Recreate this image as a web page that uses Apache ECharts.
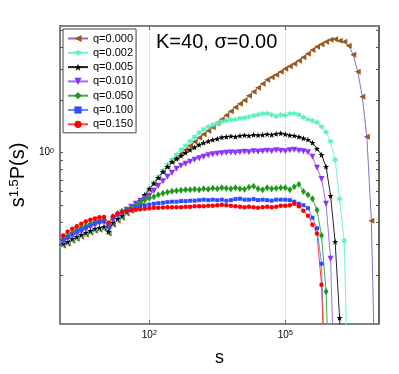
<!DOCTYPE html>
<html>
<head>
<meta charset="utf-8">
<script src="https://cdn.jsdelivr.net/npm/echarts@6/dist/echarts.min.js"></script>
<style>
html, body { margin: 0; padding: 0; background: #fff; }
#chart { width: 399px; height: 374px; }
</style>
</head>
<body>
<div id="chart"></div>
<script>
// cluster size s (log-binned)
const sValues = [
  1, 1.26, 1.58, 2.0, 2.51, 3.16, 3.98, 5.01, 6.31, 7.94,
  10, 12.6, 15.8, 20, 25.1, 31.6, 39.8, 50.1, 63.1, 79.4,
  100, 126, 158, 200, 251, 316, 398, 501, 631, 794,
  1000, 1260, 1580, 2000, 2510, 3160, 3980, 5010, 6310, 7940,
  1e4, 1.26e4, 1.58e4, 2e4, 2.51e4, 3.16e4, 3.98e4, 5.01e4, 6.31e4, 7.94e4,
  1e5, 1.26e5, 1.58e5, 2e5, 2.51e5, 3.16e5, 3.98e5, 5.01e5, 6.31e5, 7.94e5,
  1e6, 1.26e6, 1.58e6, 2e6, 2.51e6, 3.16e6, 3.98e6, 5.01e6, 6.31e6, 7.94e6,
  1e7
]

const qLabels = ['q=0.000', 'q=0.002', 'q=0.005', 'q=0.010', 'q=0.050', 'q=0.100', 'q=0.150']

// s^1.5 P(s)
const p000 = [
  0.286, 0.294, 0.302, 0.314, 0.322, 0.331, 0.340, 0.349, 0.358, 0.363,
  0.368, 0.345, 0.388, 0.409, 0.425, 0.449, 0.466, 0.485, 0.518, 0.561,
  0.615, 0.665, 0.72, 0.779, 0.832, 0.888, 0.936, 0.987, 1.04, 1.096,
  1.155, 1.218, 1.275, 1.335, 1.399, 1.474, 1.553, 1.637, 1.727, 1.82,
  1.906, 1.995, 2.12, 2.23, 2.35, 2.48, 2.61, 2.70, 2.79, 2.90,
  3.02, 3.12, 3.23, 3.36, 3.51, 3.68, 3.86, 4.03, 4.17, 4.31,
  4.42, 4.45, 4.36, 4.31, 4.09, 3.63, 2.90, 2.09, 1.234, 0.409,
  0.03
]
const p002 = [
  0.290, 0.298, 0.306, 0.318, 0.326, 0.335, 0.344, 0.354, 0.363, 0.368,
  0.373, 0.349, 0.393, 0.414, 0.431, 0.455, 0.472, 0.491, 0.525, 0.568,
  0.623, 0.674, 0.729, 0.789, 0.854, 0.912, 0.974, 1.040, 1.096, 1.163,
  1.234, 1.301, 1.362, 1.408, 1.445, 1.474, 1.503, 1.523, 1.544, 1.553,
  1.574, 1.584, 1.605, 1.627, 1.648, 1.67, 1.68, 1.648, 1.616, 1.648,
  1.637, 1.67, 1.68, 1.648, 1.595, 1.553, 1.523, 1.493, 1.408, 1.31,
  1.16, 0.912, 0.545, 0.314, 0.03
]
const p005 = [
  0.294, 0.302, 0.310, 0.322, 0.331, 0.340, 0.349, 0.358, 0.368, 0.373,
  0.378, 0.354, 0.398, 0.420, 0.436, 0.461, 0.479, 0.498, 0.532, 0.576,
  0.623, 0.669, 0.72, 0.779, 0.832, 0.888, 0.924, 0.961, 1.0, 1.04,
  1.075, 1.111, 1.14, 1.163, 1.187, 1.202, 1.226, 1.234, 1.243, 1.234,
  1.251, 1.259, 1.251, 1.267, 1.259, 1.267, 1.276, 1.267, 1.284, 1.292,
  1.276, 1.259, 1.251, 1.234, 1.21, 1.187, 1.14, 1.054, 0.974, 0.832,
  0.568, 0.31, 0.114, 0.02
]
const p010 = [
  0.302, 0.31, 0.322, 0.334, 0.345, 0.354, 0.366, 0.378, 0.388, 0.396,
  0.401, 0.373, 0.414, 0.436, 0.454, 0.472, 0.491, 0.511, 0.532, 0.55,
  0.568, 0.606, 0.648, 0.688, 0.729, 0.769, 0.81, 0.843, 0.865, 0.888,
  0.912, 0.93, 0.949, 0.968, 0.98, 0.987, 0.993, 1.0, 1.004, 1.0,
  1.007, 1.013, 1.007, 1.02, 1.013, 1.02, 1.027, 1.02, 1.033, 1.027,
  1.02, 1.033, 1.04, 1.027, 1.02, 1.007, 0.949, 0.821, 0.708, 0.511,
  0.248, 0.03
]
const p050 = [
  0.314, 0.322, 0.335, 0.349, 0.363, 0.373, 0.383, 0.393, 0.403, 0.411,
  0.414, 0.383, 0.431, 0.449, 0.463, 0.472, 0.485, 0.498, 0.515, 0.536,
  0.55, 0.56, 0.575, 0.587, 0.595, 0.603, 0.606, 0.61, 0.615, 0.615,
  0.619, 0.615, 0.623, 0.619, 0.627, 0.623, 0.631, 0.627, 0.623, 0.631,
  0.623, 0.619, 0.635, 0.644, 0.623, 0.615, 0.631, 0.623, 0.627, 0.631,
  0.631, 0.615, 0.64, 0.66, 0.60, 0.575, 0.546, 0.47, 0.336, 0.161,
  0.03
]
const p100 = [
  0.308, 0.316, 0.328, 0.342, 0.354, 0.363, 0.373, 0.383, 0.393, 0.401,
  0.406, 0.378, 0.425, 0.442, 0.457, 0.466, 0.475, 0.485, 0.495, 0.501,
  0.505, 0.511, 0.515, 0.518, 0.522, 0.525, 0.525, 0.529, 0.529, 0.532,
  0.532, 0.536, 0.539, 0.536, 0.539, 0.536, 0.539, 0.532, 0.536, 0.543,
  0.546, 0.539, 0.539, 0.543, 0.536, 0.539, 0.536, 0.532, 0.539, 0.539,
  0.539, 0.536, 0.525, 0.511, 0.501, 0.482, 0.425, 0.37, 0.232, 0.03
]
const p150 = [
  0.327, 0.337, 0.354, 0.368, 0.380, 0.393, 0.405, 0.414, 0.421, 0.428,
  0.429, 0.398, 0.434, 0.449, 0.457, 0.463, 0.469, 0.472, 0.475, 0.478,
  0.482, 0.485, 0.485, 0.487, 0.488, 0.488, 0.488, 0.488, 0.491, 0.491,
  0.495, 0.495, 0.495, 0.498, 0.498, 0.501, 0.505, 0.501, 0.498, 0.495,
  0.491, 0.488, 0.491, 0.488, 0.485, 0.488, 0.491, 0.488, 0.491, 0.498,
  0.498, 0.501, 0.511, 0.495, 0.466, 0.436, 0.388, 0.345, 0.176, 0.03
]

const xTickValues = [100, 1e5]
const yTickValues = [0.2, 0.3, 0.4, 0.5, 0.6, 0.7, 0.8, 0.9, 1, 2, 3, 4, 5]
const yLabelValues = [1]

const FONT = 'Liberation Sans'
const hexStar = 'path://M0,-10L2.5,-4.3L8.7,-5L5,0L8.7,5L2.5,4.3L0,10L-2.5,4.3L-8.7,5L-5,0L-8.7,-5L-2.5,-4.3Z'
const pentaStar = 'path://M0,-10L2.35,-3.24L9.51,-3.09L3.8,1.24L5.88,8.09L0,4L-5.88,8.09L-3.8,1.24L-9.51,-3.09L-2.35,-3.24Z'

const styles = [
  {line: '#8e6cc6', mark: '#9a5a1c', symbol: 'triangle', size: 6, rotate: 90},
  {line: '#6ff5c8', mark: '#5ff0c0', symbol: hexStar, size: 6.5, rotate: 0},
  {line: '#222', mark: '#000', symbol: pentaStar, size: 6, rotate: 0},
  {line: '#9a6cff', mark: '#8833ff', symbol: 'triangle', size: 6, rotate: 180},
  {line: '#3cb03c', mark: '#1e9a1e', symbol: 'diamond', size: [5, 7], rotate: 0},
  {line: '#6f86ff', mark: '#2f4cff', symbol: 'rect', size: 4, rotate: 0},
  {line: '#ff4040', mark: '#ff0000', symbol: 'circle', size: 4.5, rotate: 0}
]
const pData = [p000, p002, p005, p010, p050, p100, p150]

function pairs(ys) {
  return ys.map((y, i) => [sValues[i], y])
}

function powLabel(v) {
  return '{b|10}{s|' + Math.round(Math.log10(v)) + '}'
}
const tickRich = {
  b: {fontFamily: FONT, fontSize: 10, color: '#000'},
  s: {fontFamily: FONT, fontSize: 7, color: '#000', verticalAlign: 'top'}
}

const series = qLabels.map((name, i) => ({
  name: name,
  type: 'line',
  data: pairs(pData[i]),
  symbol: styles[i].symbol,
  symbolSize: styles[i].size,
  symbolRotate: styles[i].rotate,
  lineStyle: {color: styles[i].line, width: 1},
  itemStyle: {color: styles[i].mark},
  emphasis: {disabled: true},
  clip: true,
  animation: false
}))

const chart = echarts.init(document.getElementById('chart'))
chart.setOption({
  animation: false,
  backgroundColor: '#fff',
  title: {
    text: 'K=40, σ=0.00',
    left: 156,
    top: 32,
    padding: 0,
    textStyle: {fontFamily: FONT, fontSize: 20, fontWeight: 'normal', color: '#000'}
  },
  legend: {
    data: qLabels,
    orient: 'vertical',
    left: 63,
    top: 29,
    padding: [4, 3, 3, 4],
    itemWidth: 20,
    itemHeight: 9,
    itemGap: 3.3,
    backgroundColor: '#fff',
    borderColor: '#444',
    borderWidth: 1,
    borderRadius: 0,
    textStyle: {fontFamily: FONT, fontSize: 11, color: '#000'}
  },
  grid: {left: 60, right: 20, top: 26, bottom: 50, outerBoundsMode: 'none'},
  xAxis: [
    {
      type: 'log',
      logBase: 10,
      min: 1.07,
      max: 1.17e7,
      name: 's',
      nameLocation: 'middle',
      nameGap: 25,
      nameTextStyle: {fontFamily: FONT, fontSize: 18, color: '#000'},
      axisLine: {show: true, onZero: false, lineStyle: {color: '#808080', width: 2}},
      axisTick: {show: true, inside: true, length: 4, customValues: xTickValues, lineStyle: {color: '#666'}},
      axisLabel: {customValues: xTickValues, margin: 6, formatter: powLabel, rich: tickRich},
      splitLine: {show: true, lineStyle: {type: 'dotted', color: '#c4c4c4', width: 1}},
      minorTick: {show: false}
    },
    {
      type: 'log',
      logBase: 10,
      position: 'top',
      min: 1.07,
      max: 1.17e7,
      axisLine: {show: true, onZero: false, lineStyle: {color: '#808080', width: 2}},
      axisTick: {show: true, inside: true, length: 4, customValues: xTickValues, lineStyle: {color: '#666'}},
      axisLabel: {show: false},
      splitLine: {show: false}
    }
  ],
  yAxis: [
    {
      type: 'log',
      logBase: 10,
      min: 0.105,
      max: 5.3,
      name: '{b|s}{sup|1.5}{b|P(s)}',
      nameLocation: 'middle',
      nameRotate: 90,
      nameGap: 28,
      nameTextStyle: {
        fontFamily: FONT,
        fontSize: 20,
        color: '#000',
        rich: {
          b: {fontFamily: FONT, fontSize: 20, color: '#000'},
          sup: {fontFamily: FONT, fontSize: 13, color: '#000', verticalAlign: 'top'}
        }
      },
      axisLine: {show: true, onZero: false, lineStyle: {color: '#808080', width: 2}},
      axisTick: {show: true, inside: true, length: 3, customValues: yTickValues, lineStyle: {color: '#555'}},
      axisLabel: {customValues: yLabelValues, margin: 6, formatter: powLabel, rich: tickRich},
      splitLine: {show: false}
    },
    {
      type: 'log',
      logBase: 10,
      position: 'right',
      min: 0.105,
      max: 5.3,
      axisLine: {show: true, onZero: false, lineStyle: {color: '#333', width: 1.5}},
      axisTick: {show: true, inside: true, length: 3, customValues: yTickValues, lineStyle: {color: '#555'}},
      axisLabel: {show: false},
      splitLine: {show: false}
    }
  ],
  series: series
})
</script>
</body>
</html>
